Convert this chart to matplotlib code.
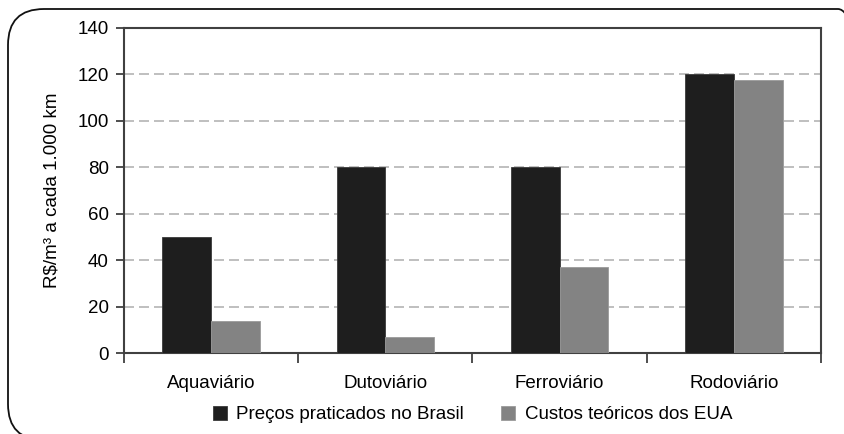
import matplotlib.pyplot as plt
from matplotlib.patches import FancyBboxPatch
from matplotlib.ticker import MultipleLocator
from matplotlib.transforms import IdentityTransform

plt.rcParams['font.family'] = ['Liberation Sans', 'DejaVu Sans']

# Costs per mode of transport (R$/m3 per 1,000 km)
modes = ['Aquaviário', 'Dutoviário', 'Ferroviário', 'Rodoviário']
brasil = [50, 80, 80, 120]
eua = [14, 7, 37, 117.5]

fig = plt.figure(figsize=(8.45, 4.34), dpi=100)
ax = fig.add_axes([0.1467, 0.1866, 0.8249, 0.7489])

# rounded frame around the whole chart (pixel coordinates)
frame = FancyBboxPatch((8, -6), 866, 431,
                       boxstyle='round,pad=0,rounding_size=36',
                       transform=IdentityTransform(), fill=False,
                       edgecolor='#111111', linewidth=1.3, clip_on=False)
fig.patches.append(frame)

w = 0.28
xs = range(len(modes))
ax.bar([x - w / 2 for x in xs], brasil, width=w, color='#1e1e1e',
       edgecolor='#3a3a3a', linewidth=0.6, label='Preços praticados no Brasil', zorder=3)
ax.bar([x + w / 2 for x in xs], eua, width=w, color='#838383',
       edgecolor='#9a9a9a', linewidth=0.6, label='Custos teóricos dos EUA', zorder=3)

ax.set_xlim(-0.5, 3.5)
ax.set_ylim(0, 140)
ax.yaxis.set_major_locator(MultipleLocator(20))
ax.yaxis.grid(True, linestyle=(0, (6, 3)), color='#b4b4b4', linewidth=1.2, zorder=0)

ax.set_xticks(list(xs))
ax.set_xticklabels(modes, fontsize=13.5)
ax.set_xticks([-0.5, 0.5, 1.5, 2.5, 3.5], minor=True)
ax.tick_params(axis='x', which='major', length=0, pad=16)
ax.tick_params(axis='x', which='minor', length=7, width=1.3, color='#404040')
ax.tick_params(axis='y', length=6, width=1.3, color='#404040', labelsize=13.5, pad=5)

for s in ax.spines.values():
    s.set_color('#404040')
    s.set_linewidth(1.5)

ax.set_ylabel('R$/m³ a cada 1.000 km', fontsize=13.5, labelpad=12)

ax.legend(loc='center', bbox_to_anchor=(0.5, -0.19), ncol=2, frameon=False,
          fontsize=13.5, handlelength=0.75, handleheight=0.75, handletextpad=0.5,
          columnspacing=2.0, borderpad=0)

fig.savefig('out.png', dpi=100)
